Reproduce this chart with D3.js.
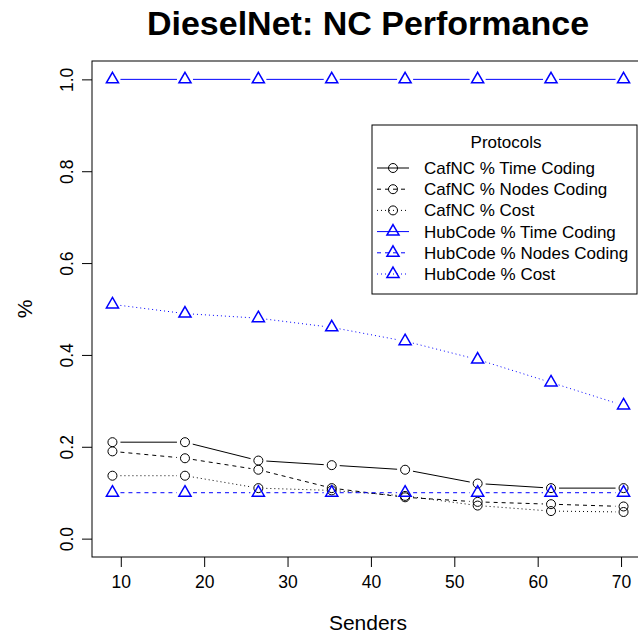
<!DOCTYPE html>
<html>
<head>
<meta charset="utf-8">
<script src="https://cdn.jsdelivr.net/npm/d3@7"></script>
<style>
  body { margin: 0; background: #fff; }
  svg { display: block; font-family: "Liberation Sans", Arial, Helvetica, sans-serif; }
</style>
</head>
<body>
<div id="chart"></div>
<script>
// values
const senders = [9, 17.7, 26.5, 35.3, 44.1, 52.8, 61.6, 70.3];
const cafTime = [0.21, 0.21, 0.17, 0.16, 0.15, 0.12, 0.11, 0.11];
const cafNodes = [0.19, 0.175, 0.15, 0.11, 0.09, 0.08, 0.075, 0.07];
const cafCost = [0.137, 0.137, 0.11, 0.105, 0.093, 0.072, 0.06, 0.058];
const hubTime = [1, 1, 1, 1, 1, 1, 1, 1];
const hubNodes = [0.1, 0.1, 0.1, 0.1, 0.1, 0.1, 0.1, 0.1];
const hubCost = [0.51, 0.49, 0.48, 0.46, 0.43, 0.39, 0.34, 0.29];
const xTicks = [10, 20, 30, 40, 50, 60, 70];
const yTicks = [0, 0.2, 0.4, 0.6, 0.8, 1.0];
const legendLabels = [
  "CafNC % Time Coding",
  "CafNC % Nodes Coding",
  "CafNC % Cost",
  "HubCode % Time Coding",
  "HubCode % Nodes Coding",
  "HubCode % Cost",
];

const series = [
  { values: cafTime, color: "#000", dash: null, shape: "circle" },
  { values: cafNodes, color: "#000", dash: "4,4", shape: "circle" },
  { values: cafCost, color: "#000", dash: "1,3", shape: "circle" },
  { values: hubTime, color: "#0000ff", dash: null, shape: "triangle" },
  { values: hubNodes, color: "#0000ff", dash: "4,4", shape: "triangle" },
  { values: hubCost, color: "#0000ff", dash: "1,3", shape: "triangle" },
];

const W = 638, H = 638;
const box = { left: 92, top: 61, right: 644, bottom: 557 };
const r0 = 4.5; // circle radius, triangle is scaled from it like R's pch 2
const gap = 8;  // gap around points for type="b"

const svg = d3.select("#chart").append("svg").attr("width", W).attr("height", H);

// R pads the data range by 4% on each side
const xPad = (d3.max(senders) - d3.min(senders)) * 0.04;
const xScale = d3.scaleLinear()
  .domain([d3.min(senders) - xPad, d3.max(senders) + xPad])
  .range([box.left, box.right]);
const yScale = d3.scaleLinear().domain([-0.04, 1.04]).range([box.bottom, box.top]);

// title
svg.append("text")
  .attr("x", (box.left + box.right) / 2)
  .attr("y", 35)
  .attr("text-anchor", "middle")
  .style("font-size", "34px")
  .style("font-weight", "bold")
  .text("DieselNet: NC Performance");

// axes, R style
const xAxis = d3.axisBottom(xScale).tickValues(xTicks).tickSize(10).tickPadding(9);
const gx = svg.append("g").attr("transform", `translate(0,${box.bottom})`).call(xAxis);
gx.select(".domain").remove();
gx.selectAll("text").style("font-size", "17.5px").style("font-family", "inherit").attr("fill", "#000");

const yAxis = d3.axisLeft(yScale).tickValues(yTicks).tickSize(10).tickFormat(d3.format(".1f"));
const gy = svg.append("g").attr("transform", `translate(${box.left},0)`).call(yAxis);
gy.select(".domain").remove();
gy.selectAll(".tick text")
  .style("font-size", "17.5px")
  .style("font-family", "inherit")
  .attr("fill", "#000")
  .attr("x", null)
  .attr("y", 0)
  .attr("dy", null)
  .attr("text-anchor", "middle")
  .attr("transform", "translate(-19,0) rotate(-90)");

// axis labels
svg.append("text")
  .attr("x", (box.left + box.right) / 2)
  .attr("y", 630)
  .attr("text-anchor", "middle")
  .style("font-size", "21px")
  .text("Senders");

svg.append("text")
  .attr("transform", `translate(32,${(box.top + box.bottom) / 2}) rotate(-90)`)
  .attr("text-anchor", "middle")
  .style("font-size", "21px")
  .text("%");

// plot box
svg.append("rect")
  .attr("x", box.left)
  .attr("y", box.top)
  .attr("width", box.right - box.left)
  .attr("height", box.bottom - box.top)
  .attr("fill", "none")
  .attr("stroke", "#000")
  .attr("stroke-width", 1);

function trianglePath(cx, cy) {
  const r = 1.5551 * r0, xc = 1.3468 * r0, yc = 0.7776 * r0;
  return `M${cx},${cy - r}L${cx + xc},${cy + yc}L${cx - xc},${cy + yc}Z`;
}

function drawMarker(g, shape, cx, cy, color) {
  if (shape === "circle") {
    g.append("circle").attr("cx", cx).attr("cy", cy).attr("r", r0)
      .attr("fill", "none").attr("stroke", color).attr("stroke-width", 1);
  } else {
    g.append("path").attr("d", trianglePath(cx, cy))
      .attr("fill", "none").attr("stroke", color).attr("stroke-width", 1.5);
  }
}

// series: lines with gaps around the points, like type = "b"
const plot = svg.append("g");
series.forEach((s) => {
  const pts = s.values.map((v, i) => [xScale(senders[i]), yScale(v)]);
  const segs = [];
  for (let i = 0; i < pts.length - 1; i++) {
    const [x1, y1] = pts[i], [x2, y2] = pts[i + 1];
    const len = Math.hypot(x2 - x1, y2 - y1);
    if (len <= 2 * gap) continue;
    const ux = (x2 - x1) / len, uy = (y2 - y1) / len;
    segs.push([[x1 + ux * gap, y1 + uy * gap], [x2 - ux * gap, y2 - uy * gap]]);
  }
  plot.selectAll(null)
    .data(segs)
    .enter()
    .append("path")
    .attr("d", (d) => d3.line()(d))
    .attr("fill", "none")
    .attr("stroke", s.color)
    .attr("stroke-width", 1)
    .attr("stroke-dasharray", s.dash);
  pts.forEach(([cx, cy]) => drawMarker(plot, s.shape, cx, cy, s.color));
});

// legend
const lg = { left: 372, top: 125, right: 637, bottom: 294 };
const legend = svg.append("g");
legend.append("rect")
  .attr("x", lg.left).attr("y", lg.top)
  .attr("width", lg.right - lg.left).attr("height", lg.bottom - lg.top)
  .attr("fill", "#fff").attr("stroke", "#000").attr("stroke-width", 1);

legend.append("text")
  .attr("x", 506).attr("y", 148)
  .attr("text-anchor", "middle")
  .style("font-size", "17px")
  .text("Protocols");

series.forEach((s, i) => {
  const cy = 168 + i * 21.2;
  legend.append("line")
    .attr("x1", 377).attr("x2", 409).attr("y1", cy).attr("y2", cy)
    .attr("stroke", s.color).attr("stroke-width", 1)
    .attr("stroke-dasharray", s.dash);
  drawMarker(legend, s.shape, 393, cy, s.color);
  legend.append("text")
    .attr("x", 424).attr("y", cy + 6)
    .style("font-size", "17px")
    .text(legendLabels[i]);
});
</script>
</body>
</html>
